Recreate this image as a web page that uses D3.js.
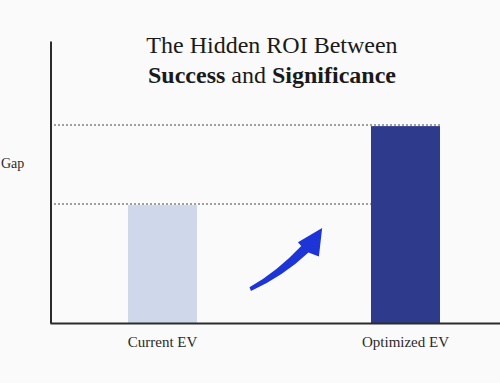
<!DOCTYPE html>
<html>
<head>
<meta charset="utf-8">
<script src="https://cdn.jsdelivr.net/npm/d3@7"></script>
<style>
  html, body { margin: 0; padding: 0; background: #fafafa; }
  svg { display: block; }
</style>
</head>
<body>
<div id="chart"></div>
<script>
const categories = ["Current EV", "Optimized EV"];
const values = [42, 70];
const barColors = ["#cfd8ea", "#2e3a8c"];
const titleLine1 = "The Hidden ROI Between";
const titleLine2 = [{t: "Success", b: true}, {t: " and ", b: false}, {t: "Significance", b: true}];
const sideLabel = "Gap";
// arrow anchor in data units: [x offset from midpoint between bars (fraction of step), value]
const arrowFrom = [-0.14, 12];
const arrowTo = [0.157, 33.7];

const W = 500, H = 383;
const font = "'Liberation Serif', 'Times New Roman', serif";

const svg = d3.select("#chart").append("svg")
  .attr("width", W).attr("height", H)
  .style("background", "#fafafa");

const x = d3.scaleBand().domain(categories).range([50, 518])
  .paddingInner(0.716).paddingOuter(0.321);
const y = d3.scaleLinear().domain([0, 100]).range([323, 41]);

// dashed reference lines
const bar2 = categories[1];
svg.selectAll("line.ref").data(values).join("line")
  .attr("class", "ref")
  .attr("x1", 50)
  .attr("x2", (d, i) => i === 0 ? x(bar2) : x(bar2) + x.bandwidth())
  .attr("y1", d => y(d) - 0.5).attr("y2", d => y(d) - 0.5)
  .attr("stroke", "#a0a0a0").attr("stroke-width", 2)
  .attr("stroke-dasharray", "2,2");

// bars
svg.selectAll("rect.bar").data(values).join("rect")
  .attr("class", "bar")
  .attr("x", (d, i) => x(categories[i]))
  .attr("y", d => y(d) + 0.5)
  .attr("width", x.bandwidth())
  .attr("height", d => y(0) - y(d) - 0.5)
  .attr("fill", (d, i) => barColors[i]);

// axes
const yAxis = svg.append("g").attr("transform", "translate(50.5,0)")
  .call(d3.axisLeft(y).ticks(0).tickSize(0).tickSizeOuter(0));
yAxis.select(".domain").attr("stroke", "#2b2b2b").attr("stroke-width", 2);
yAxis.selectAll("text").remove();

const xAxis = svg.append("g").attr("transform", "translate(0,323)")
  .call(d3.axisBottom(x).tickSize(0).tickSizeOuter(0).tickPadding(13));
xAxis.select(".domain").attr("stroke", "#2b2b2b").attr("stroke-width", 2);
xAxis.selectAll("text")
  .attr("font-family", font).attr("font-size", 15).attr("fill", "#2a2a2a");

// arrow
const mid = (x(categories[0]) + x(categories[1]) + x.bandwidth()) / 2;
const step = x.step();
const p0 = [mid + arrowFrom[0] * step, y(arrowFrom[1])];
const tip = [mid + arrowTo[0] * step, y(arrowTo[1])];
const dx = tip[0] - p0[0], dy = tip[1] - p0[1];
const pt = (u, v) => [p0[0] + u * dx, p0[1] + v * dy];
const tailTop = [p0[0] - 0.5, p0[1] - 1.8];
const tailBot = [p0[0] + 1.0, p0[1] + 1.8];
const jointTop = pt(0.71, 0.705);
const jointBot = pt(0.81, 0.6);
const wingL = pt(0.665, 0.765);
const wingR = pt(0.955, 0.535);
const ctrlTop = pt(0.38, 0.29);
const ctrlBot = pt(0.47, 0.22);
const arrowPath = `M${tailTop} Q${ctrlTop} ${jointTop} L${wingL} L${tip} L${wingR} L${jointBot} Q${ctrlBot} ${tailBot} Z`;
svg.append("path").attr("d", arrowPath).attr("fill", "#1d34d6");

// title
const title = svg.append("text")
  .attr("x", 272).attr("y", 53)
  .attr("text-anchor", "middle")
  .attr("font-family", font).attr("font-size", 24).attr("fill", "#1a1a1a");
title.append("tspan").attr("x", 272).attr("y", 53).text(titleLine1);
const l2 = svg.append("text")
  .attr("x", 272).attr("y", 83)
  .attr("text-anchor", "middle")
  .attr("font-family", font).attr("font-size", 24).attr("fill", "#1a1a1a");
l2.selectAll("tspan").data(titleLine2).join("tspan")
  .attr("font-weight", d => d.b ? "bold" : "normal")
  .text(d => d.t);

// side label
svg.append("text")
  .attr("x", 1).attr("y", 168)
  .attr("text-anchor", "start")
  .attr("font-family", font).attr("font-size", 14).attr("fill", "#2a2a2a")
  .text(sideLabel);
</script>
</body>
</html>
